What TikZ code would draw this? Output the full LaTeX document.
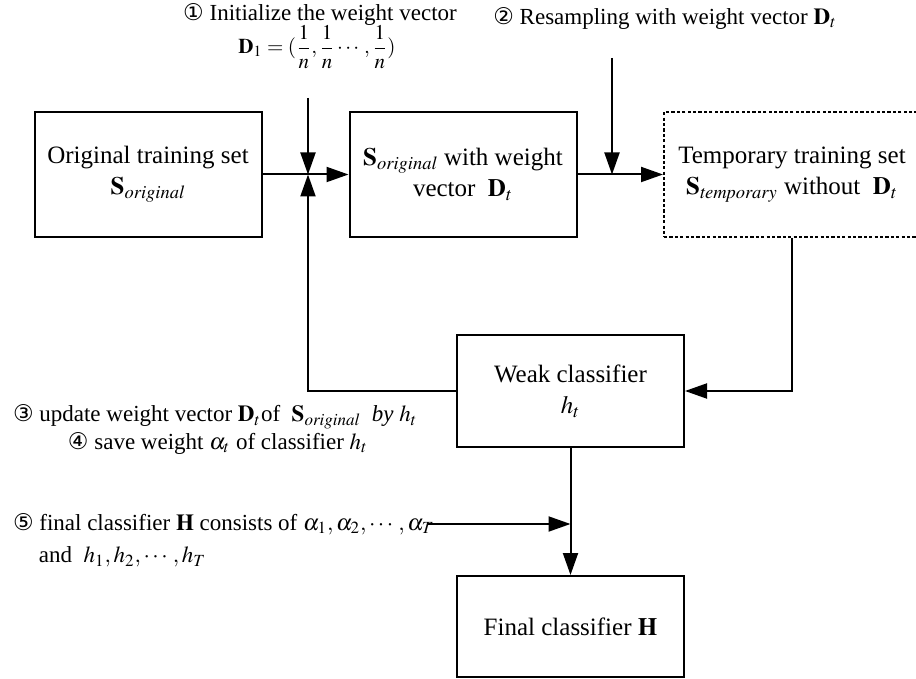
\documentclass[tikz,border=0pt]{standalone}
\usepackage{mathptmx}
\usepackage{amsmath}
\usepackage[no-math]{fontspec}
\setmainfont{Liberation Serif}
\newfontfamily\circfont{DejaVu Sans}
\usetikzlibrary{arrows.meta}
\newcommand{\cnum}[1]{{\circfont #1}}
\begin{document}
\begin{tikzpicture}[x=0.5pt,y=-0.5pt, line width=1pt,
  box/.style={draw, minimum width=113.5pt, minimum height=62.5pt, align=center, inner sep=0pt,
    font=\fontsize{12.5}{15.5}\selectfont},
  arr/.style={-{Triangle[length=11pt,width=7.5pt]}},
  lab/.style={font=\fontsize{11.5}{14}\selectfont, inner sep=0pt, align=left}]
\useasboundingbox (0,0) rectangle (916,679);
% boxes
\node[box] (orig) at (148,174.5) {Original training set\\ $\mathbf{S}_{\mathit{original}}$};
\node[box] (sw) at (463,174.5) {$\mathbf{S}_{\mathit{original}}$ with weight\\ vector \ $\mathbf{D}_t$};
\node[box, dash pattern=on 1.6pt off 1.1pt, minimum width=128pt] (temp) at (792,174.5)
  {Temporary training set\\ $\mathbf{S}_{\mathit{temporary}}$ without \ $\mathbf{D}_t$};
\node[box, minimum height=56pt] (weak) at (570.5,391) {Weak classifier\\ $h_t$};
\node[box, minimum height=50.5pt] (final) at (570.5,626.5) {Final classifier $\mathbf{H}$};
% labels
\node[lab] (lab1) at (320,14) {\cnum{①} Initialize the weight vector};
\node[lab, font=\fontsize{10.5}{12}\selectfont] (f1) at (317,47) {$\mathbf{D}_1=(\dfrac{1}{n},\dfrac{1}{n}\cdots,\dfrac{1}{n})$};
\node[lab] (lab2) at (665,18) {\cnum{②} Resampling with weight vector $\mathbf{D}_t$};
\node[lab, anchor=west] (lab3) at (12,417) {\cnum{③} update weight vector $\mathbf{D}_t$of \ $\mathbf{S}_{\mathit{original}}$ \ \textit{by} $h_t$};
\node[lab, anchor=west] (lab4) at (67,443) {\cnum{④} save weight $\alpha_t$ of classifier $h_t$};
\node[lab, anchor=west] (lab5a) at (12,524) {\cnum{⑤} final classifier $\mathbf{H}$ consists of $\alpha_1,\alpha_2,\cdots,\alpha_T$};
\node[lab, anchor=west] (lab5b) at (38,557) {and \ $h_1,h_2,\cdots,h_T$};
% junctions
\coordinate (j) at (308,174.5);
\coordinate (j0) at (308,98);
\coordinate (k) at (612,174.5);
\coordinate (k0) at (612,58);
% connectors
\draw[arr] (orig.east) -- (sw.west);
\draw[arr] (j0) -- (j);
\draw[arr] (weak.west) -| (j);
\draw[arr] (k0) -- (k);
\draw[arr] (sw.east) -- (temp.west);
\draw[arr] (temp.south) |- (weak.east);
\draw[arr] (weak.south) -- (final.north);
\draw[arr] ([xshift=-4pt]lab5a.east) -- (lab5a.east -| weak.south);
\end{tikzpicture}
\end{document}
